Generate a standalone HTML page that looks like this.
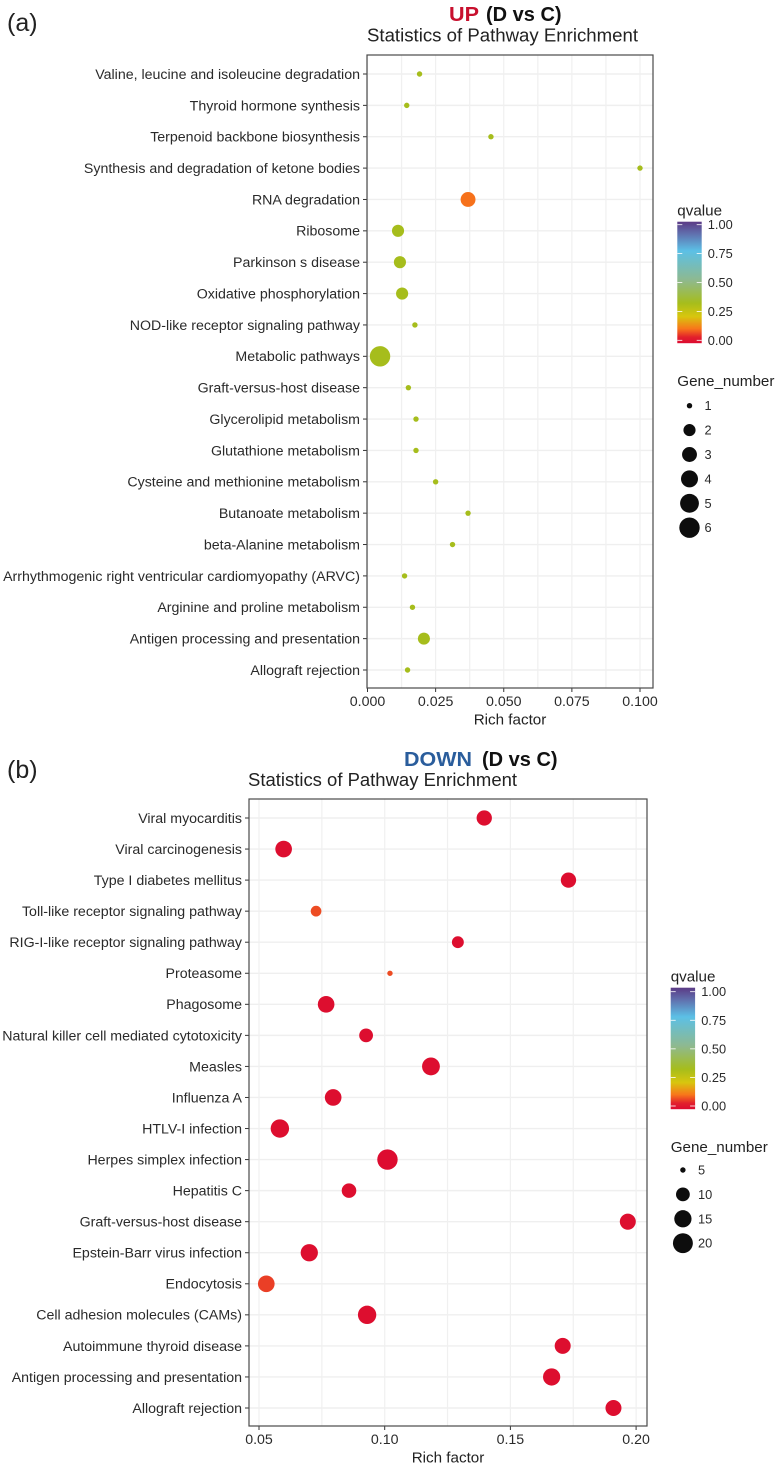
<!DOCTYPE html>
<html lang="en">
<head>
<meta charset="utf-8">
<title>Statistics of Pathway Enrichment</title>
<style>
html,body{margin:0;padding:0;background:#fff;width:780px;height:1467px;overflow:hidden}
svg{display:block}
text{font-family:"Liberation Sans",sans-serif;fill:#222}
.ytick,.xtick{font-size:14.2px;fill:#2a2a2a}
.axt{font-size:15.2px;fill:#222}
.ttl{font-size:18.9px;fill:#222}
.big{font-size:20px;font-weight:bold}
.lt{font-size:15.2px;fill:#222}
.ll{font-size:12.8px;fill:#2a2a2a}
.pan{font-size:25px;fill:#222}
</style>
</head>
<body>
<svg id="fig" xmlns="http://www.w3.org/2000/svg" width="780" height="1467" viewBox="0 0 780 1467">
<defs>
<linearGradient id="qgrad" x1="0" y1="1" x2="0" y2="0">
<stop offset="0" stop-color="#dc0a30"/>
<stop offset="0.05" stop-color="#e2202c"/>
<stop offset="0.12" stop-color="#f8771a"/>
<stop offset="0.22" stop-color="#d8c60e"/>
<stop offset="0.33" stop-color="#a6bd1c"/>
<stop offset="0.52" stop-color="#8eb98f"/>
<stop offset="0.76" stop-color="#5cc0e6"/>
<stop offset="0.9" stop-color="#6070ae"/>
<stop offset="1" stop-color="#5b3a86"/>
</linearGradient>
</defs>
<text class="pan" x="7" y="31">(a)</text>
<text class="big" x="449" y="21" textLength="30" lengthAdjust="spacingAndGlyphs" style="fill:#c8102e">UP</text>
<text class="big" x="486" y="21" style="fill:#111">(D vs C)</text>
<text class="ttl" x="367" y="41.5" textLength="271" lengthAdjust="spacingAndGlyphs">Statistics of Pathway Enrichment</text>
<text class="pan" x="7" y="778">(b)</text>
<text class="big" x="404" y="766" textLength="68" lengthAdjust="spacingAndGlyphs" style="fill:#2a5d9c">DOWN</text>
<text class="big" x="482" y="766" style="fill:#111">(D vs C)</text>
<text class="ttl" x="248" y="786" textLength="269" lengthAdjust="spacingAndGlyphs">Statistics of Pathway Enrichment</text>
</svg>
<script>
var catsA = ["Valine, leucine and isoleucine degradation","Thyroid hormone synthesis","Terpenoid backbone biosynthesis","Synthesis and degradation of ketone bodies","RNA degradation","Ribosome","Parkinson s disease","Oxidative phosphorylation","NOD-like receptor signaling pathway","Metabolic pathways","Graft-versus-host disease","Glycerolipid metabolism","Glutathione metabolism","Cysteine and methionine metabolism","Butanoate metabolism","beta-Alanine metabolism","Arrhythmogenic right ventricular cardiomyopathy (ARVC)","Arginine and proline metabolism","Antigen processing and presentation","Allograft rejection"];
var richA = [0.0191,0.0144,0.0453,0.1,0.0369,0.0112,0.0119,0.0127,0.0174,0.0046,0.015,0.0178,0.0178,0.025,0.0369,0.0312,0.0136,0.0165,0.0207,0.0147];
var qvalA = [0.33,0.33,0.33,0.33,0.115,0.33,0.33,0.33,0.33,0.33,0.33,0.33,0.33,0.33,0.33,0.33,0.33,0.33,0.33,0.33];
var genesA = [1,1,1,1,3,2,2,2,1,6,1,1,1,1,1,1,1,1,2,1];
var xTicksA = [0,0.025,0.05,0.075,0.1];
var xTickLabelsA = ["0.000","0.025","0.050","0.075","0.100"];
var sizeLegendA = [1,2,3,4,5,6];

var catsB = ["Viral myocarditis","Viral carcinogenesis","Type I diabetes mellitus","Toll-like receptor signaling pathway","RIG-I-like receptor signaling pathway","Proteasome","Phagosome","Natural killer cell mediated cytotoxicity","Measles","Influenza A","HTLV-I infection","Herpes simplex infection","Hepatitis C","Graft-versus-host disease","Epstein-Barr virus infection","Endocytosis","Cell adhesion molecules (CAMs)","Autoimmune thyroid disease","Antigen processing and presentation","Allograft rejection"];
var richB = [0.1396,0.0598,0.1731,0.0727,0.1291,0.1021,0.0767,0.0926,0.1184,0.0795,0.0583,0.1011,0.0858,0.1967,0.07,0.0529,0.093,0.1708,0.1664,0.191];
var qvalB = [0.01,0.01,0.01,0.085,0.01,0.085,0.01,0.01,0.01,0.01,0.01,0.005,0.01,0.01,0.01,0.075,0.01,0.01,0.01,0.01];
var genesB = [12,14,12,7,8,5,14,10,16,14,17,21,11,13,15,14,17,13,15,13];
var xTicksB = [0.05,0.1,0.15,0.2];
var xTickLabelsB = ["0.05","0.10","0.15","0.20"];
var sizeLegendB = [5,10,15,20];

var qTicks = [0,0.25,0.5,0.75,1];
var qTickLabels = ["0.00","0.25","0.50","0.75","1.00"];

var NS = "http://www.w3.org/2000/svg";
var svg = document.getElementById("fig");
var colorPos = [0,0.05,0.12,0.22,0.33,0.52,0.76,0.9,1];
var colorVal = ["#dc0a30","#e2202c","#f8771a","#d8c60e","#a6bd1c","#8eb98f","#5cc0e6","#6070ae","#5b3a86"];

function qColor(q){
  for(var i=1;i<colorPos.length;i++){
    if(q<=colorPos[i]){
      var t=(q-colorPos[i-1])/(colorPos[i]-colorPos[i-1]);
      var a=parseInt(colorVal[i-1].slice(1),16),b=parseInt(colorVal[i].slice(1),16);
      var r=Math.round((a>>16)+((b>>16)-(a>>16))*t);
      var g=Math.round(((a>>8)&255)+(((b>>8)&255)-((a>>8)&255))*t);
      var c=Math.round((a&255)+((b&255)-(a&255))*t);
      return "rgb("+r+","+g+","+c+")";
    }
  }
  return colorVal[colorVal.length-1];
}
function mk(tag,attrs,txt){
  var e=document.createElementNS(NS,tag);
  for(var k in attrs){e.setAttribute(k,attrs[k]);}
  if(txt!==undefined){e.textContent=txt;}
  svg.appendChild(e);
  return e;
}
function drawPanel(o){
  var n=o.cats.length;
  function xs(v){return o.x0+(v-o.v0)*o.pxPerUnit;}
  function ys(i){return o.yTop+(o.yBot-o.yTop)*i/(n-1);}
  function rs(g){return 2.7+7.5*Math.sqrt((g-o.gMin)/(o.gMax-o.gMin));}
  var el;
  el=mk("rect",{x:o.L,y:o.T,width:o.R-o.L,height:o.B-o.T,fill:"#fff"});
  
  
  for(var i=0;i<n;i++){
    el=mk("line",{x1:o.L,x2:o.R,y1:ys(i),y2:ys(i),stroke:"#efefef","stroke-width":1.4});
    
    
  }
  var step=o.ticks[1]-o.ticks[0];
  for(var v=o.ticks[0]-step/2;xs(v)<o.R;v+=step/2){
    if(xs(v)<o.L+0.5){continue;}
    el=mk("line",{x1:xs(v),x2:xs(v),y1:o.T,y2:o.B,stroke:"#f0f0f0","stroke-width":1.2});
    
    
  }
  for(i=0;i<n;i++){
    el=mk("line",{x1:o.L-4,x2:o.L,y1:ys(i),y2:ys(i),stroke:"#333","stroke-width":1});
    
    
    el=mk("text",{"class":"ytick",x:o.L-7,y:ys(i)+4.9,"text-anchor":"end"},o.cats[i]);
    
    
  }
  for(i=0;i<o.ticks.length;i++){
    el=mk("line",{x1:xs(o.ticks[i]),x2:xs(o.ticks[i]),y1:o.B,y2:o.B+4,stroke:"#333","stroke-width":1});
    
    
    el=mk("text",{"class":"xtick",x:xs(o.ticks[i]),y:o.B+18,"text-anchor":"middle"},o.tickLabels[i]);
    
    
  }
  el=mk("text",{"class":"axt",x:(o.L+o.R)/2+o.axOff,y:o.B+36.5,"text-anchor":"middle"},"Rich factor");
  
  
  for(i=0;i<n;i++){
    el=mk("circle",{cx:xs(o.rich[i]),cy:ys(i),r:rs(o.genes[i]),fill:qColor(o.qval[i])});
    
    
  }
  el=mk("rect",{x:o.L,y:o.T,width:o.R-o.L,height:o.B-o.T,fill:"none",stroke:"#4a4a4a","stroke-width":1.2});
  
  

  /* colour legend */
  el=mk("text",{"class":"lt",x:o.barX,y:o.barTop-6},"qvalue");
  
  
  el=mk("rect",{x:o.barX,y:o.barTop,width:24.4,height:121.5,fill:"url(#qgrad)"});
  
  
  for(i=0;i<qTicks.length;i++){
    var ty=o.q0Y-(o.q0Y-o.q1Y)*qTicks[i];
    el=mk("line",{x1:o.barX,x2:o.barX+5,y1:ty,y2:ty,stroke:"#fff","stroke-width":0.8});
    
    
    el=mk("line",{x1:o.barX+19.4,x2:o.barX+24.4,y1:ty,y2:ty,stroke:"#fff","stroke-width":0.8});
    
    
    el=mk("text",{"class":"ll",x:o.barX+30.5,y:ty+4.5},qTickLabels[i]);
    
    
  }
  /* size legend */
  el=mk("text",{"class":"lt",x:o.barX,y:o.sizeTitleY},"Gene_number");
  
  
  for(i=0;i<o.sizes.length;i++){
    var sy=o.sizeY+i*o.sizeStep;
    el=mk("circle",{cx:o.barX+12.2,cy:sy,r:rs(o.sizes[i]),fill:"#0d0d0d"});
    
    
    el=mk("text",{"class":"ll",x:o.sizeLabelX,y:sy+4.5},String(o.sizes[i]));
    
    
  }
}
drawPanel({id:"a",cats:catsA,rich:richA,qval:qvalA,genes:genesA,ticks:xTicksA,tickLabels:xTickLabelsA,sizes:sizeLegendA,
  L:367,R:653,T:55,B:688,yTop:74,yBot:670,x0:367.5,v0:0,pxPerUnit:2725,gMin:1,gMax:6,axOff:0,
  barX:677.3,barTop:221.7,q0Y:340.3,q1Y:224.7,sizeTitleY:386,sizeY:405.7,sizeStep:24.4,sizeLabelX:704.5});
drawPanel({id:"b",cats:catsB,rich:richB,qval:qvalB,genes:genesB,ticks:xTicksB,tickLabels:xTickLabelsB,sizes:sizeLegendB,
  L:249,R:647,T:799,B:1426,yTop:818,yBot:1408,x0:259,v0:0.05,pxPerUnit:2514,gMin:5,gMax:21,axOff:0,
  barX:670.7,barTop:987.7,q0Y:1106,q1Y:991.7,sizeTitleY:1152,sizeY:1170,sizeStep:24.4,sizeLabelX:698});
</script>
</body>
</html>
